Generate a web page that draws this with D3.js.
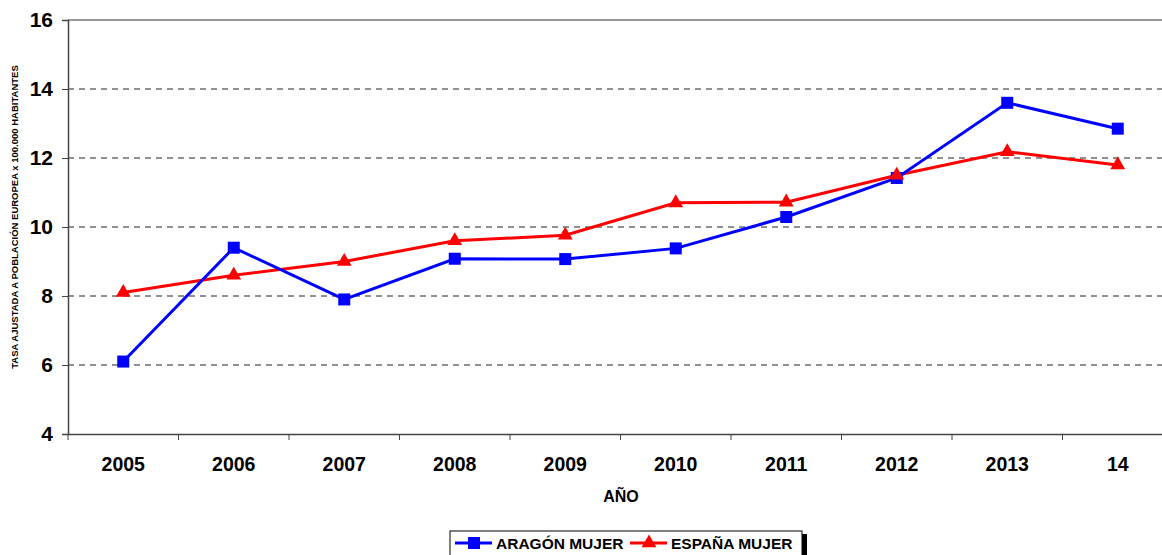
<!DOCTYPE html>
<html>
<head>
<meta charset="utf-8">
<script src="https://cdn.jsdelivr.net/npm/d3@7"></script>
<style>
  body { margin: 0; background: #fff; }
  svg { display: block; font-family: Arial, "Liberation Sans", sans-serif; }
</style>
</head>
<body>
<div id="chart"></div>
<script>
const years = ["2005", "2006", "2007", "2008", "2009", "2010", "2011", "2012", "2013", "14"];
const aragon = [6.1, 9.4, 7.9, 9.08, 9.07, 9.38, 10.29, 11.42, 13.6, 12.85];
const espana = [8.1, 8.6, 9.0, 9.6, 9.76, 10.7, 10.72, 11.5, 12.18, 11.8];
const yTicks = [4, 6, 8, 10, 12, 14, 16];

const W = 1162, H = 555;
const margin = { top: 20, left: 68 };
const width = 1105, height = 414;

const svg = d3.select("#chart").append("svg")
    .attr("width", W).attr("height", H);

const g = svg.append("g")
    .attr("transform", `translate(${margin.left},${margin.top})`);

const x = d3.scaleBand().domain(years).range([0, width]);
const y = d3.scaleLinear().domain([4, 16]).range([height, 0]);

// rejilla
g.append("g").selectAll("line")
    .data(yTicks.filter(d => d > 4 && d < 16))
    .join("line")
    .attr("x1", 0).attr("x2", width)
    .attr("y1", d => y(d)).attr("y2", d => y(d))
    .attr("stroke", "#222").attr("stroke-width", 1)
    .attr("stroke-dasharray", "6,5");

// borde superior
g.append("line")
    .attr("x1", 0).attr("x2", width)
    .attr("y1", 0).attr("y2", 0)
    .attr("stroke", "#999").attr("stroke-width", 2);

// eje Y
const yAxis = g.append("g")
    .call(d3.axisLeft(y).tickValues(yTicks).tickSize(6).tickPadding(9));
yAxis.select(".domain").attr("stroke", "#444").attr("stroke-width", 1.5);
yAxis.selectAll(".tick line").attr("stroke", "#444");
yAxis.selectAll("text")
    .attr("font-size", 21).attr("font-weight", "bold").attr("fill", "#000");

// eje X
const xAxis = g.append("g")
    .attr("transform", `translate(0,${height})`)
    .call(d3.axisBottom(x).tickSize(0).tickPadding(23));
xAxis.select(".domain").attr("stroke", "#444").attr("stroke-width", 1.5);
xAxis.selectAll("text")
    .attr("font-size", 19.5).attr("font-weight", "bold").attr("fill", "#000");

// marcas entre categorías
g.append("g").selectAll("line")
    .data(years)
    .join("line")
    .attr("x1", d => x(d)).attr("x2", d => x(d))
    .attr("y1", height).attr("y2", height + 6)
    .attr("stroke", "#444");

// títulos
svg.append("text")
    .attr("x", 621).attr("y", 502)
    .attr("text-anchor", "middle")
    .attr("font-size", 16).attr("font-weight", "bold")
    .text("AÑO");

svg.append("text")
    .attr("transform", `translate(18,217) rotate(-90)`)
    .attr("text-anchor", "middle")
    .attr("font-size", 9.5).attr("font-weight", "bold")
    .text("TASA AJUSTADA A POBLACIÓN EUROPEA x 100.000 HABITANTES");

const cx = (d, i) => x(years[i]) + x.bandwidth() / 2;
const line = d3.line().x((d, i) => cx(d, i)).y(d => y(d));

// España
g.append("path").datum(espana)
    .attr("fill", "none").attr("stroke", "#ff0000").attr("stroke-width", 3)
    .attr("d", line);

// Aragón
g.append("path").datum(aragon)
    .attr("fill", "none").attr("stroke", "#0000ff").attr("stroke-width", 3)
    .attr("d", line);

g.append("g").selectAll("rect")
    .data(aragon)
    .join("rect")
    .attr("x", (d, i) => cx(d, i) - 6).attr("y", d => y(d) - 6)
    .attr("width", 12).attr("height", 12)
    .attr("fill", "#0000ff");

const tri = d3.symbol().type(d3.symbolTriangle).size(95);
g.append("g").selectAll("path")
    .data(espana)
    .join("path")
    .attr("transform", (d, i) => `translate(${cx(d, i)},${y(d)})`)
    .attr("d", tri)
    .attr("fill", "#ff0000");

// leyenda
const lg = svg.append("g").attr("transform", "translate(450,531)");
lg.append("rect").attr("x", 4).attr("y", 3).attr("width", 353).attr("height", 30).attr("fill", "#000");
lg.append("rect").attr("x", 0).attr("y", 0).attr("width", 352).attr("height", 30)
    .attr("fill", "#fff").attr("stroke", "#000").attr("stroke-width", 1);

const items = [
  { name: "ARAGÓN MUJER", color: "#0000ff", shape: "square", x: 5 },
  { name: "ESPAÑA MUJER", color: "#ff0000", shape: "triangle", x: 180 }
];
items.forEach(it => {
  const ig = lg.append("g").attr("transform", `translate(${it.x},12)`);
  ig.append("line").attr("x1", 0).attr("x2", 37).attr("y1", 0).attr("y2", 0)
    .attr("stroke", it.color).attr("stroke-width", 3);
  if (it.shape === "square") {
    ig.append("rect").attr("x", 13).attr("y", -6).attr("width", 12).attr("height", 12).attr("fill", it.color);
  } else {
    ig.append("path").attr("transform", "translate(19,0)").attr("d", tri).attr("fill", it.color);
  }
  ig.append("text").attr("x", 41).attr("y", 6)
    .attr("font-size", 15.5).attr("font-weight", "bold")
    .text(it.name);
});
</script>
</body>
</html>
